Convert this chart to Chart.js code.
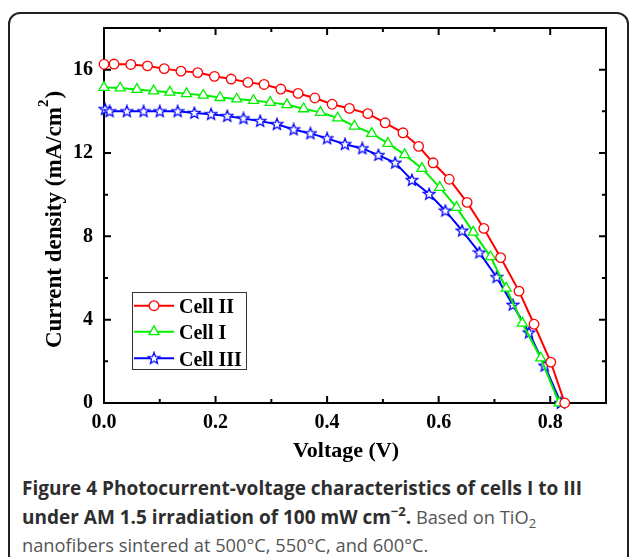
<!DOCTYPE html>
<html>
<head>
<meta charset="utf-8">
<script src="https://cdn.jsdelivr.net/npm/chart.js@4.4.0/dist/chart.umd.min.js"></script>
<style>
  body { margin: 0; background: #fff; width: 629px; height: 557px; overflow: hidden; position: relative; }
  #frame { position: absolute; left: 8px; top: 12px; width: 617px; height: 600px; border: 2px solid #222; border-radius: 12px; }
  #wrap { position: absolute; left: 0; top: 0; width: 629px; height: 470px; }
  .cap { position: absolute; left: 22px; font-family: 'Open Sans', sans-serif; font-size: 18.3px; color: #555; white-space: nowrap; line-height: 23px; }
  .cap b { color: #2e2e2e; font-size: 19px; }
  .sup { position: relative; top: -8px; font-size: 13px; }
  .sub { position: relative; top: 4px; font-size: 13px; }
</style>
</head>
<body>
<div id="frame"></div>
<div id="wrap"><canvas id="chart"></canvas></div>
<div class="cap" style="top:476px"><b>Figure 4 Photocurrent-voltage characteristics of cells I to III</b></div>
<div class="cap" style="top:505px"><b>under AM 1.5 irradiation of 100 mW cm<span class="sup">&minus;2</span>.</b> Based on TiO<span class="sub">2</span></div>
<div class="cap" style="top:533px">nanofibers sintered at 500°C, 550°C, and 600°C.</div>
<script>
// Cell II (red circles)
const voltII = [0.000, 0.018, 0.048, 0.078, 0.108, 0.138, 0.168, 0.198, 0.228, 0.258, 0.287, 0.317, 0.348, 0.378, 0.409, 0.440, 0.473, 0.504, 0.536, 0.564, 0.590, 0.619, 0.651, 0.681, 0.711, 0.744, 0.771, 0.801, 0.826];
const currII = [16.26, 16.27, 16.25, 16.18, 16.05, 15.93, 15.86, 15.68, 15.55, 15.39, 15.29, 15.07, 14.86, 14.64, 14.34, 14.14, 13.89, 13.45, 12.97, 12.32, 11.53, 10.74, 9.63, 8.38, 6.98, 5.37, 3.78, 1.96, 0];
// Cell I (green triangles)
const voltI = [0.000, 0.029, 0.059, 0.089, 0.118, 0.148, 0.178, 0.208, 0.238, 0.268, 0.298, 0.328, 0.358, 0.388, 0.419, 0.449, 0.480, 0.509, 0.539, 0.570, 0.602, 0.632, 0.662, 0.693, 0.721, 0.750, 0.783, 0.816];
const currI = [15.15, 15.12, 15.05, 14.98, 14.92, 14.85, 14.77, 14.66, 14.59, 14.52, 14.43, 14.32, 14.12, 13.95, 13.68, 13.29, 12.94, 12.46, 11.92, 11.26, 10.35, 9.39, 8.20, 7.02, 5.51, 3.83, 2.16, 0];
// Cell III (blue stars)
const voltIII = [0.002, 0.010, 0.041, 0.071, 0.100, 0.132, 0.162, 0.192, 0.221, 0.250, 0.280, 0.310, 0.340, 0.370, 0.400, 0.432, 0.463, 0.492, 0.522, 0.552, 0.583, 0.612, 0.642, 0.673, 0.704, 0.733, 0.762, 0.790, 0.819];
const currIII = [14.10, 14.00, 14.00, 14.00, 14.00, 14.00, 13.92, 13.86, 13.77, 13.66, 13.53, 13.38, 13.13, 12.94, 12.70, 12.42, 12.22, 11.90, 11.53, 10.70, 10.03, 9.23, 8.27, 7.22, 6.04, 4.71, 3.38, 1.79, 0];

const seriesLabels = ['Cell II', 'Cell I', 'Cell III'];
const xMajorTicks = [0, 0.2, 0.4, 0.6, 0.8];
const xMinorTicks = [0.1, 0.3, 0.5, 0.7];
const yMajorTicks = [0, 4, 8, 12, 16];
const yMinorTicks = [2, 6, 10, 14];
const xTitle = 'Voltage (V)';
const yTitle = 'Current density (mA/cm';

const serif = "'Liberation Serif', 'Times New Roman', serif";

const toPoints = (xs, ys) => xs.map((x, i) => ({ x: x, y: ys[i] }));

// hollow five point star used as point style for Cell III
const starImg = document.createElement('canvas');
starImg.width = 14;
starImg.height = 14;
(function () {
	const c = starImg.getContext('2d');
	c.beginPath();
	for (let i = 0; i < 10; i++) {
		const r = i % 2 === 0 ? 6 : 2.6;
		const a = -Math.PI / 2 + (i * Math.PI) / 5;
		const px = 7 + r * Math.cos(a);
		const py = 7.3 + r * Math.sin(a);
		if (i === 0) c.moveTo(px, py);
		else c.lineTo(px, py);
	}
	c.closePath();
	c.fillStyle = '#fff';
	c.fill();
	c.strokeStyle = '#0000ff';
	c.lineWidth = 1.3;
	c.stroke();
})();

const drawMarker = (ctx, style, color, x, y) => {
	ctx.save();
	ctx.lineWidth = 1.3;
	ctx.strokeStyle = color;
	ctx.fillStyle = '#fff';
	if (style === 'circle') {
		ctx.beginPath();
		ctx.arc(x, y, 4.8, 0, Math.PI * 2);
		ctx.fill();
		ctx.stroke();
	} else if (style === 'triangle') {
		const r = 5.8;
		ctx.beginPath();
		ctx.moveTo(x, y - r);
		ctx.lineTo(x + r * 0.866, y + r / 2);
		ctx.lineTo(x - r * 0.866, y + r / 2);
		ctx.closePath();
		ctx.fill();
		ctx.stroke();
	} else {
		ctx.drawImage(starImg, x - 7, y - 7);
	}
	ctx.restore();
};

const decorations = {
	id: 'decorations',
	beforeDatasetsDraw(chart) {
		const ctx = chart.ctx;
		const a = chart.chartArea;
		const xs = chart.scales.x;
		const ys = chart.scales.y;
		ctx.save();
		ctx.strokeStyle = '#000';
		ctx.lineWidth = 2;
		ctx.strokeRect(a.left, a.top, a.right - a.left, a.bottom - a.top);
		const tick = (vals, len) => {
			vals.forEach((v) => {
				const px = xs.getPixelForValue(v);
				ctx.beginPath();
				ctx.moveTo(px, a.bottom);
				ctx.lineTo(px, a.bottom - len);
				ctx.moveTo(px, a.top);
				ctx.lineTo(px, a.top + len);
				ctx.stroke();
			});
		};
		const ytick = (vals, len) => {
			vals.forEach((v) => {
				const py = ys.getPixelForValue(v);
				ctx.beginPath();
				ctx.moveTo(a.left, py);
				ctx.lineTo(a.left + len, py);
				ctx.moveTo(a.right, py);
				ctx.lineTo(a.right - len, py);
				ctx.stroke();
			});
		};
		tick(xMajorTicks, 7);
		tick(xMinorTicks, 4);
		ytick(yMajorTicks, 7);
		ytick(yMinorTicks, 4);
		ctx.restore();
	},
	afterDraw(chart) {
		const ctx = chart.ctx;
		ctx.save();
		ctx.fillStyle = '#000';
		// x axis title
		ctx.font = 'bold 22px ' + serif;
		ctx.textAlign = 'center';
		ctx.textBaseline = 'alphabetic';
		ctx.fillText(xTitle, 346, 457);
		// y axis title with superscript
		ctx.font = 'bold 23px ' + serif;
		const mainW = ctx.measureText(yTitle).width;
		const closeW = ctx.measureText(')').width;
		ctx.font = 'bold 15px ' + serif;
		const supW = ctx.measureText('2').width;
		const total = mainW + supW + closeW;
		ctx.translate(61, 220 + total / 2);
		ctx.rotate(-Math.PI / 2);
		ctx.textAlign = 'left';
		ctx.font = 'bold 23px ' + serif;
		ctx.fillText(yTitle, 0, 0);
		ctx.font = 'bold 15px ' + serif;
		ctx.fillText('2', mainW, -13);
		ctx.font = 'bold 23px ' + serif;
		ctx.fillText(')', mainW + supW + 1, 0);
		ctx.restore();

		// legend box
		ctx.save();
		ctx.strokeStyle = '#333';
		ctx.lineWidth = 1;
		ctx.strokeRect(132.5, 292.5, 114, 77);
		ctx.font = 'bold 20px ' + serif;
		ctx.textBaseline = 'alphabetic';
		ctx.fillStyle = '#000';
		const rows = [305.7, 331.7, 358.3];
		chart.data.datasets.forEach((ds, i) => {
			const y = rows[i];
			ctx.strokeStyle = ds.borderColor;
			ctx.lineWidth = 2;
			ctx.beginPath();
			ctx.moveTo(134, y);
			ctx.lineTo(174, y);
			ctx.stroke();
			drawMarker(ctx, ds.markerName, ds.borderColor, 154, y);
			ctx.fillText(ds.label, 179, y + 7.5);
		});
		ctx.restore();
	},
};

const lineSet = (label, pts, color, style, radius) => ({
	label: label,
	data: pts,
	borderColor: color,
	borderWidth: 2,
	pointStyle: style,
	markerName: typeof style === 'string' ? style : 'star',
	pointRadius: radius,
	pointBorderWidth: 1.3,
	pointBorderColor: color,
	pointBackgroundColor: '#fff',
	tension: 0,
	clip: false,
	fill: false,
});

new Chart(document.getElementById('chart'), {
	type: 'line',
	data: {
		datasets: [
			lineSet(seriesLabels[0], toPoints(voltII, currII), '#ff0000', 'circle', 4.8),
			lineSet(seriesLabels[1], toPoints(voltI, currI), '#00f000', 'triangle', 5.8),
			lineSet(seriesLabels[2], toPoints(voltIII, currIII), '#0000ff', starImg, 6),
		],
	},
	options: {
		responsive: true,
		maintainAspectRatio: false,
		animation: false,
		layout: { padding: { left: 0, top: 28, right: 23, bottom: 0 } },
		plugins: {
			legend: { display: false },
			tooltip: { enabled: false },
		},
		scales: {
			x: {
				type: 'linear',
				min: 0,
				max: 0.9,
				afterBuildTicks: (s) => {
					s.ticks = xMajorTicks.map((v) => ({ value: v }));
				},
				afterFit: (s) => {
					s.height = 67;
				},
				grid: { display: false },
				border: { display: false },
				ticks: {
					padding: 0,
					color: '#000',
					maxRotation: 0,
					autoSkip: false,
					font: { family: serif, size: 20, weight: 'bold' },
					callback: (v) => Number(v).toFixed(1),
				},
			},
			y: {
				min: 0,
				max: 18,
				afterBuildTicks: (s) => {
					s.ticks = yMajorTicks.map((v) => ({ value: v }));
				},
				afterFit: (s) => {
					s.width = 104;
				},
				grid: { display: false },
				border: { display: false },
				ticks: {
					padding: 3,
					color: '#000',
					autoSkip: false,
					font: { family: serif, size: 20, weight: 'bold' },
				},
			},
		},
	},
	plugins: [decorations],
});
</script>
</body>
</html>
